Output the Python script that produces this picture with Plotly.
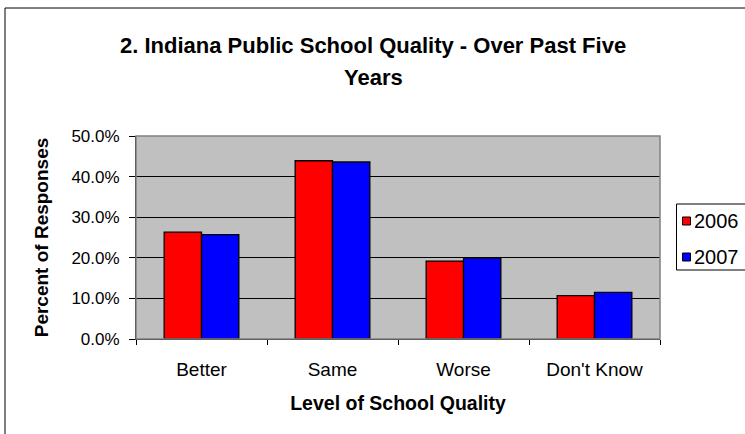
import plotly.graph_objects as go

# Survey results: perceived change in Indiana public school quality
categories = ["Better", "Same", "Worse", "Don't Know"]
years = ["2006", "2007"]
pct_2006 = [0.263, 0.439, 0.192, 0.107]
pct_2007 = [0.257, 0.436, 0.199, 0.115]
y_ticks = [0.0, 0.1, 0.2, 0.3, 0.4, 0.5]

colors = ["#FF0000", "#0000FF"]
FONT = "Liberation Sans, Arial, sans-serif"

fig = go.Figure()
for name, vals, col in zip(years, [pct_2006, pct_2007], colors):
    fig.add_trace(go.Bar(
        x=categories, y=vals, name=name,
        marker=dict(color=col, line=dict(color="#000000", width=1.3)),
        showlegend=False,
    ))

# Plot area sits at x 136..660 px, y 136..339 px of a 745x434 page
L, R, T, B = 136, 85, 136, 95
W, H = 745 - L - R, 434 - T - B


def px(x):
    return (x - L) / W


def py(y):
    return (434 - B - y) / H


shapes = [
    # outer chart frame
    dict(type="rect", xref="paper", yref="paper",
         x0=px(5), x1=px(790), y0=py(470), y1=py(8),
         line=dict(color="#000000", width=1), layer="below"),
    # plot-area border (top/right in grey)
    dict(type="rect", xref="paper", yref="paper", x0=0, x1=1, y0=0, y1=1,
         line=dict(color="#808080", width=1.5), layer="above"),
    # legend box
    dict(type="rect", xref="paper", yref="paper",
         x0=px(676.5), x1=px(780), y0=py(270), y1=py(204),
         line=dict(color="#000000", width=1), fillcolor="#FFFFFF"),
]
annotations = [
    dict(text="<b>2. Indiana Public School Quality - Over Past Five</b>",
         xref="paper", yref="paper", x=px(373), y=py(45),
         xanchor="center", yanchor="middle", showarrow=False,
         font=dict(family=FONT, size=22, color="#000000")),
    dict(text="<b>Years</b>",
         xref="paper", yref="paper", x=px(373), y=py(77),
         xanchor="center", yanchor="middle", showarrow=False,
         font=dict(family=FONT, size=22, color="#000000")),
]

# legend entries
for i, (name, col) in enumerate(zip(years, colors)):
    yc = 221 + 36 * i
    shapes.append(dict(type="rect", xref="paper", yref="paper",
                       x0=px(682.5), x1=px(690.5), y0=py(yc + 4), y1=py(yc - 4),
                       line=dict(color="#000000", width=1), fillcolor=col))
    annotations.append(dict(text=name, xref="paper", yref="paper",
                            x=px(692), y=py(yc), xanchor="left", yanchor="middle",
                            showarrow=False,
                            font=dict(family=FONT, size=20, color="#000000")))

fig.update_layout(
    width=745, height=434,
    margin=dict(l=L, r=R, t=T, b=B, autoexpand=False),
    paper_bgcolor="#FFFFFF",
    plot_bgcolor="#C0C0C0",
    bargap=0.43, bargroupgap=0,
    barmode="group",
    font=dict(family=FONT, size=16, color="#000000"),
    shapes=shapes,
    annotations=annotations,
    xaxis=dict(
        title=dict(text="<b>Level of School Quality</b>", standoff=17,
                   font=dict(size=19.5)),
        tickson="boundaries", ticks="outside", ticklen=5, tickcolor="#000000",
        showline=True, linecolor="#000000", linewidth=1,
        showgrid=False, ticklabelstandoff=13, tickfont=dict(size=19),
    ),
    yaxis=dict(
        title=dict(text="<b>Percent of Responses</b>", standoff=17,
                   font=dict(size=19)),
        range=[0, 0.5], tickvals=y_ticks, tickformat=".1%",
        ticks="outside", ticklen=6, tickcolor="#000000",
        showline=True, linecolor="#000000", linewidth=1,
        showgrid=True, gridcolor="#000000", gridwidth=1,
        zeroline=False, ticklabelstandoff=6, tickfont=dict(size=17),
    ),
)

fig.write_html("out.html")
